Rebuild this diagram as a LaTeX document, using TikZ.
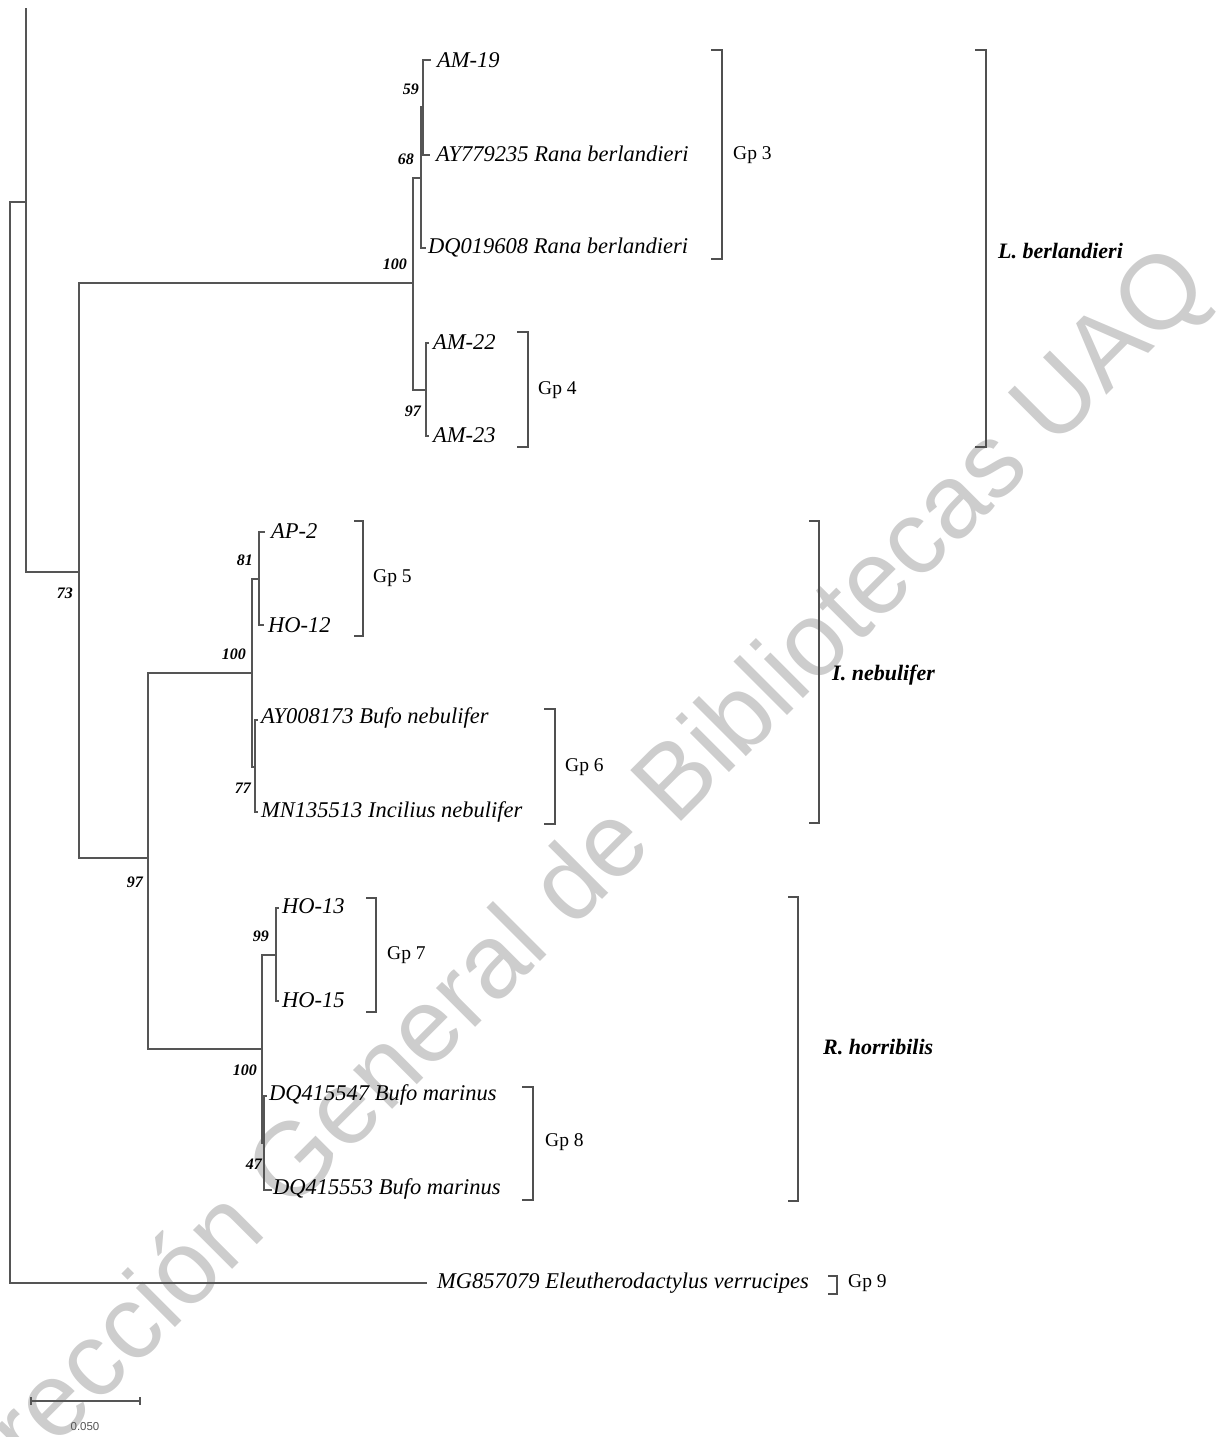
\documentclass[tikz,border=0pt]{standalone}
\usepackage{fontspec}
\usetikzlibrary{calc}
\setmainfont{Liberation Serif}
\newfontfamily\wmfont{Liberation Sans}
\newfontfamily\scalefont{Liberation Sans}
\definecolor{treegray}{RGB}{85,85,85}
\definecolor{brkgray}{RGB}{80,80,80}
\definecolor{wmgray}{RGB}{205,205,205}
\begin{document}
\begin{tikzpicture}[x=1pt,y=-1pt,
  tree/.style={draw=treegray, line width=1.3pt, line cap=rect},
  brk/.style={draw=brkgray, line width=1.5pt},
  leaf/.style={font=\fontsize{22.5}{27}\selectfont\itshape, anchor=west, inner sep=0pt},
  boot/.style={font=\fontsize{16}{19}\selectfont\bfseries\itshape, anchor=east, inner sep=0pt},
  gp/.style={font=\fontsize{19.5}{23}\selectfont, anchor=west, inner sep=0pt},
  spec/.style={font=\fontsize{22}{26}\selectfont\bfseries\itshape, anchor=west, inner sep=0pt},
  wm/.style={font=\wmfont\fontsize{104.5}{125}\selectfont, text=wmgray, rotate=45, inner sep=0pt}]
\useasboundingbox (0,0) rectangle (1226,1437);
% watermark
\node[wm] (wmark) at (567,895) {Dirección General de Bibliotecas UAQ};

% ---- tree coordinates ----
\coordinate (r0t) at (10,202);
\coordinate (r0b) at (10,1283);
\coordinate (a1) at (26,202);
\coordinate (atop) at (26,9);
\coordinate (abot) at (26,572);
\coordinate (n73) at (79,572);
\coordinate (n73t) at (79,283);
\coordinate (n73b) at (79,858);
% L. berlandieri clade
\coordinate (b100) at (413,283);
\coordinate (b100t) at (413,178);
\coordinate (b100b) at (413,390);
\coordinate (b68) at (421,178);
\coordinate (b68t) at (421,107);
\coordinate (b68b) at (421,248);
\coordinate (lDQ1) at (425,248);
\coordinate (b59) at (423,107);
\coordinate (b59t) at (423,60);
\coordinate (b59b) at (423,155);
\coordinate (lAM19) at (430,60);
\coordinate (lAY77) at (429,155);
\coordinate (b97) at (426,390);
\coordinate (b97t) at (426,343);
\coordinate (b97b) at (426,436);
\coordinate (lAM22) at (428,343);
\coordinate (lAM23) at (428,436);
% 97 node
\coordinate (n97) at (148,858);
\coordinate (n97t) at (148,673);
\coordinate (n97b) at (148,1049);
% I. nebulifer clade
\coordinate (i100) at (252,673);
\coordinate (i100t) at (252,579);
\coordinate (i100b) at (252,767);
\coordinate (i81) at (259,579);
\coordinate (i81t) at (259,532);
\coordinate (i81b) at (259,625);
\coordinate (lAP2) at (264,532);
\coordinate (lHO12) at (263,625);
\coordinate (i77) at (255,767);
\coordinate (i77t) at (255,720);
\coordinate (i77b) at (255,812);
\coordinate (lAY00) at (257,720);
\coordinate (lMN) at (257,812);
% R. horribilis clade
\coordinate (h100) at (262,1049);
\coordinate (h100t) at (262,955);
\coordinate (h100b) at (262,1143);
\coordinate (h99) at (276,955);
\coordinate (h99t) at (276,908);
\coordinate (h99b) at (276,1001);
\coordinate (lHO13) at (278,908);
\coordinate (lHO15) at (278,1001);
\coordinate (h47) at (264,1143);
\coordinate (h47t) at (264,1096);
\coordinate (h47b) at (264,1190);
\coordinate (lDQ47) at (266,1096);
\coordinate (lDQ53) at (271,1190);
% outgroup
\coordinate (lMG) at (426,1283);

% ---- branches ----
\draw[tree] (r0t) -- (r0b);
\draw[tree] (r0t) -- (a1);
\draw[tree] (atop) -- (abot);
\draw[tree] (abot) -- (n73);
\draw[tree] (n73t) -- (n73b);
\draw[tree] (n73t) -- (b100);
\draw[tree] (b100t) -- (b100b);
\draw[tree] (b100t) -- (b68);
\draw[tree] (b68t) -- (b68b) -- (lDQ1);
\draw[tree] (b68t) -- (b59);
\draw[tree] (lAM19) -- (b59t) -- (b59b) -- (lAY77);
\draw[tree] (b100b) -- (b97);
\draw[tree] (lAM22) -- (b97t) -- (b97b) -- (lAM23);
\draw[tree] (n73b) -- (n97);
\draw[tree] (n97t) -- (n97b);
\draw[tree] (n97t) -- (i100);
\draw[tree] (i100t) -- (i100b);
\draw[tree] (i100t) -- (i81);
\draw[tree] (lAP2) -- (i81t) -- (i81b) -- (lHO12);
\draw[tree] (i100b) -- (i77);
\draw[tree] (lAY00) -- (i77t) -- (i77b) -- (lMN);
\draw[tree] (n97b) -- (h100);
\draw[tree] (h100t) -- (h100b);
\draw[tree] (h100t) -- (h99);
\draw[tree] (lHO13) -- (h99t) -- (h99b) -- (lHO15);
\draw[tree] (h100b) -- (h47);
\draw[tree] (lDQ47) -- (h47t) -- (h47b) -- (lDQ53);
\draw[tree] (r0b) -- (lMG);

% ---- leaf labels ----
\node[leaf] (tAM19) at (437,60) {AM-19};
\node[leaf] (tAY77) at (436,154) {AY779235 Rana berlandieri};
\node[leaf] (tDQ1) at (428,248) {DQ019608 Rana berlandieri};
\node[leaf] (tAM22) at (433,342) {AM-22};
\node[leaf] (tAM23) at (433,435) {AM-23};
\node[leaf] (tAP2) at (271,531) {AP-2};
\node[leaf] (tHO12) at (268,625) {HO-12};
\node[leaf] (tAY00) at (261,718) {AY008173 Bufo nebulifer};
\node[leaf] (tMN) at (261,812) {MN135513 Incilius nebulifer};
\node[leaf] (tHO13) at (282,906) {HO-13};
\node[leaf] (tHO15) at (282,1000) {HO-15};
\node[leaf] (tDQ47) at (269,1095) {DQ415547 Bufo marinus};
\node[leaf] (tDQ53) at (273,1189) {DQ415553 Bufo marinus};
\node[leaf] (tMG) at (437,1283) {MG857079 Eleutherodactylus verrucipes};

% ---- bootstrap values ----
\node[boot] (v59) at (419,89) {59};
\node[boot] (v68) at (414,159) {68};
\node[boot] (v100a) at (407,264) {100};
\node[boot] (v97a) at (421,411) {97};
\node[boot] (v73) at (73,593) {73};
\node[boot] (v81) at (253,560) {81};
\node[boot] (v100b) at (246,654) {100};
\node[boot] (v77) at (251,788) {77};
\node[boot] (v97b) at (143,882) {97};
\node[boot] (v99) at (269,936) {99};
\node[boot] (v100c) at (257,1070) {100};
\node[boot] (v47) at (262,1164) {47};

% ---- group brackets ----
\draw[brk] (711,50) -- (722,50) -- (722,259) -- (711,259);
\node[gp] (g3) at (733,155) {Gp 3};
\draw[brk] (517,332) -- (528,332) -- (528,447) -- (517,447);
\node[gp] (g4) at (538,390) {Gp 4};
\draw[brk] (354,521) -- (363,521) -- (363,636) -- (354,636);
\node[gp] (g5) at (373,578) {Gp 5};
\draw[brk] (544,709) -- (555,709) -- (555,824) -- (544,824);
\node[gp] (g6) at (565,767) {Gp 6};
\draw[brk] (366,898) -- (376,898) -- (376,1012) -- (366,1012);
\node[gp] (g7) at (387,955) {Gp 7};
\draw[brk] (522,1087) -- (533,1087) -- (533,1200) -- (522,1200);
\node[gp] (g8) at (545,1142) {Gp 8};
\draw[brk] (828,1276) -- (837,1276) -- (837,1294) -- (828,1294);
\node[gp] (g9) at (848,1283) {Gp 9};

% ---- species brackets ----
\draw[brk] (975,50) -- (986,50) -- (986,447) -- (975,447);
\node[spec] (sL) at (998,251) {L. berlandieri};
\draw[brk] (809,521) -- (819,521) -- (819,823) -- (809,823);
\node[spec] (sI) at (832,675) {I. nebulifer};
\draw[brk] (788,897) -- (798,897) -- (798,1201) -- (788,1201);
\node[spec] (sR) at (823,1047) {R. horribilis};

% ---- scale bar ----
\coordinate (sb1) at (31,1401);
\coordinate (sb2) at (140,1401);
\coordinate (sb1u) at (31,1397);
\coordinate (sb1d) at (31,1405);
\coordinate (sb2u) at (140,1397);
\coordinate (sb2d) at (140,1405);
\draw[draw=treegray, line width=1.3pt] (sb1) -- (sb2);
\draw[draw=treegray, line width=1.3pt] (sb1u) -- (sb1d);
\draw[draw=treegray, line width=1.3pt] (sb2u) -- (sb2d);
\node[font=\scalefont\fontsize{11.5}{14}\selectfont, text=treegray, inner sep=0pt] (sbl) at (85,1427) {0.050};
\end{tikzpicture}
\end{document}
